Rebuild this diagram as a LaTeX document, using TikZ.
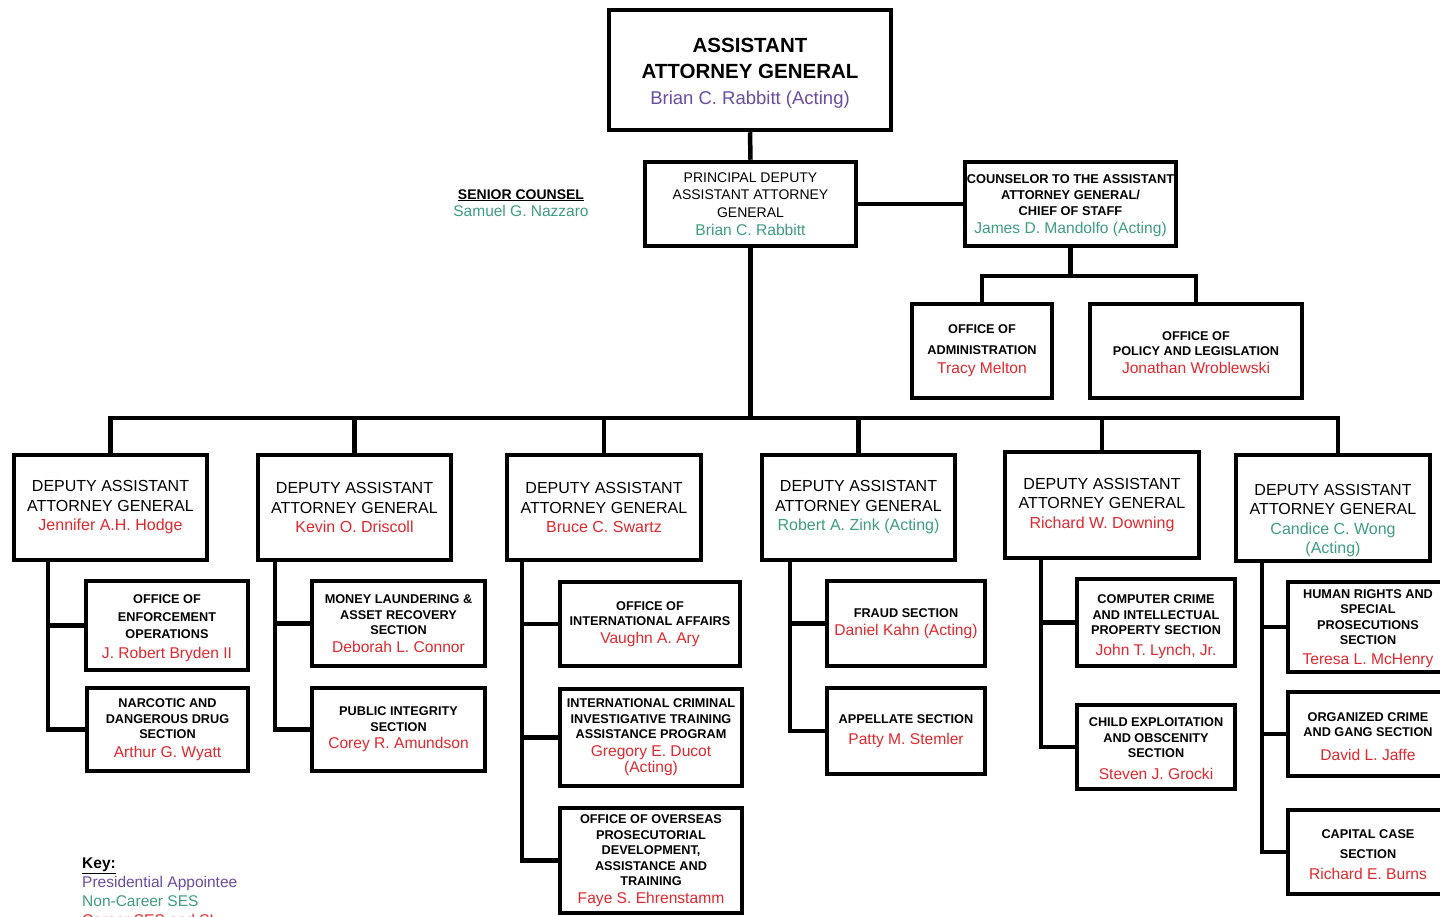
\documentclass[tikz,border=0pt]{standalone}
\usepackage{fontspec}
\setmainfont{Liberation Sans}
\usetikzlibrary{calc}

\definecolor{presc}{HTML}{6A4CA0}
\definecolor{ncses}{HTML}{3E9E7C}
\definecolor{cses}{HTML}{E0282E}

% font sizes for the different levels
\newcommand{\aagfont}{\fontsize{20.5}{26}\selectfont\bfseries}
\newcommand{\daagfont}{\fontsize{16}{19.5}\selectfont}
\newcommand{\secfont}{\fontsize{12.7}{15.5}\selectfont\bfseries}
\newcommand{\pdfont}{\fontsize{14}{17.5}\selectfont}
% name colours: presidential, non-career SES, career SES/SL
\newcommand{\pnm}[1]{{\color{presc}#1}}
\newcommand{\gnm}[1]{{\color{ncses}#1}}
\newcommand{\rnm}[1]{{\fontsize{15.6}{18}\selectfont\mdseries\color{cses}#1}}
\newcommand{\rdn}[1]{{\color{cses}#1}}
\newcommand{\gsec}[1]{{\fontsize{15.6}{18}\selectfont\mdseries\color{ncses}#1}}

\tikzset{
  unit/.style={draw=black, line width=4.5pt, fill=white, align=center, inner sep=1pt},
  link/.style={line width=4.5pt},
}

\begin{document}
\begin{tikzpicture}[x=1pt,y=-1pt]
\fill[white] (0,0) rectangle (1440,917);
\useasboundingbox (0,0) rectangle (1440,917);

% front office
\node[unit, minimum width=282pt, minimum height=120pt, font=\aagfont] (aag) at (750,70)
  {\rule{0pt}{21pt}ASSISTANT\\ATTORNEY GENERAL\\{\mdseries\fontsize{18.5}{22}\selectfont\pnm{Brian C. Rabbitt (Acting)}}};
\node[unit, minimum width=211pt, minimum height=84pt, font=\pdfont] (pdaag) at (750.5,204)
  {PRINCIPAL DEPUTY\\ASSISTANT ATTORNEY\\GENERAL\\[1pt]\gsec{Brian C. Rabbitt}};
\node[unit, minimum width=211pt, minimum height=84pt, font=\fontsize{12.8}{16}\selectfont\bfseries] (cos) at (1070.5,204)
  {\rule{0pt}{13pt}COUNSELOR TO THE ASSISTANT\\ATTORNEY GENERAL/\\CHIEF OF STAFF\\[2pt]\gsec{James D. Mandolfo (Acting)}};
\node[unit, minimum width=140pt, minimum height=94pt, font=\secfont] (adm) at (982,351)
  {OFFICE OF\\[5pt]ADMINISTRATION\\[4pt]\rnm{Tracy Melton}};
\node[unit, minimum width=212pt, minimum height=94pt, font=\secfont] (pol) at (1196,351)
  {\rule{0pt}{12pt}OFFICE OF\\POLICY AND LEGISLATION\\[2pt]\rnm{Jonathan Wroblewski}};

\node[align=center, font=\pdfont] (sc) at (521,203)
  {\bfseries\underline{SENIOR COUNSEL}\\{\fontsize{15.5}{18}\selectfont\gnm{Samuel G. Nazzaro}}};

% deputy assistant attorneys general
\node[unit, minimum width=193pt, minimum height=105pt, font=\daagfont] (d1) at (110.5,507.5)
  {DEPUTY ASSISTANT\\ATTORNEY GENERAL\\\rdn{Jennifer A.H. Hodge}};
\node[unit, minimum width=193pt, minimum height=105pt, font=\daagfont] (d2) at (354.5,507.5)
  {DEPUTY ASSISTANT\\ATTORNEY GENERAL\\\rdn{Kevin O. Driscoll}};
\node[unit, minimum width=194pt, minimum height=105pt, font=\daagfont] (d3) at (604,507.5)
  {DEPUTY ASSISTANT\\ATTORNEY GENERAL\\\rdn{Bruce C. Swartz}};
\node[unit, minimum width=193pt, minimum height=105pt, font=\daagfont] (d4) at (858.5,507.5)
  {DEPUTY ASSISTANT\\ATTORNEY GENERAL\\\gnm{Robert A. Zink (Acting)}};
\node[unit, minimum width=194pt, minimum height=106pt, font=\daagfont] (d5) at (1102,505)
  {DEPUTY ASSISTANT\\ATTORNEY GENERAL\\\rdn{Richard W. Downing}};
\node[unit, minimum width=194pt, minimum height=106pt, font=\daagfont] (d6) at (1333,508)
  {\rule{0pt}{36pt}DEPUTY ASSISTANT\\ATTORNEY GENERAL\\\gnm{Candice C. Wong}\\\gnm{(Acting)}};

% sections
\node[unit, minimum width=162pt, minimum height=89pt, font=\secfont] (s11) at (167,625.5)
  {\rule{0pt}{14pt}OFFICE OF\\[3pt]ENFORCEMENT\\[1pt]OPERATIONS\\[5pt]\rnm{J. Robert Bryden II}};
\node[unit, minimum width=161pt, minimum height=83pt, font=\secfont] (s12) at (167.5,729.5)
  {NARCOTIC AND\\DANGEROUS DRUG\\SECTION\\[3pt]\rnm{Arthur G. Wyatt}};
\node[unit, minimum width=173pt, minimum height=85pt, font=\secfont] (s21) at (398.5,623.5)
  {MONEY LAUNDERING \&\\ASSET RECOVERY\\SECTION\\[2pt]\rnm{Deborah L. Connor}};
\node[unit, minimum width=173pt, minimum height=83pt, font=\secfont] (s22) at (398.5,729.5)
  {PUBLIC INTEGRITY\\SECTION\\[2pt]\rnm{Corey R. Amundson}};
\node[unit, minimum width=180pt, minimum height=84pt, font=\secfont] (s31) at (650,624)
  {OFFICE OF\\INTERNATIONAL AFFAIRS\\[2pt]\rnm{Vaughn A. Ary}};
\node[unit, minimum width=182pt, minimum height=97pt, font=\secfont] (s32) at (651,737.5)
  {INTERNATIONAL CRIMINAL\\INVESTIGATIVE TRAINING\\ASSISTANCE PROGRAM\\[2pt]\rnm{Gregory E. Ducot}\\[1pt]\rnm{(Acting)}};
\node[unit, minimum width=182pt, minimum height=105pt, font=\secfont] (s33) at (651,860.5)
  {OFFICE OF OVERSEAS\\PROSECUTORIAL\\DEVELOPMENT,\\ASSISTANCE AND\\TRAINING\\[2pt]\rnm{Faye S. Ehrenstamm}};
\node[unit, minimum width=158pt, minimum height=85pt, font=\secfont] (s41) at (906,623.5)
  {FRAUD SECTION\\[2pt]\rnm{Daniel Kahn (Acting)}};
\node[unit, minimum width=158pt, minimum height=86pt, font=\secfont] (s42) at (906,731)
  {APPELLATE SECTION\\[5pt]\rnm{Patty M. Stemler}};
\node[unit, minimum width=158pt, minimum height=87pt, font=\secfont] (s51) at (1156,622.5)
  {\rule{0pt}{17pt}COMPUTER CRIME\\AND INTELLECTUAL\\PROPERTY SECTION\\[5pt]\rnm{John T. Lynch, Jr.}};
\node[unit, minimum width=158pt, minimum height=84pt, font=\secfont] (s52) at (1156,747)
  {\rule{0pt}{12pt}CHILD EXPLOITATION\\AND OBSCENITY\\SECTION\\[6pt]\rnm{Steven J. Grocki}};
\node[unit, minimum width=160pt, minimum height=90pt, font=\secfont] (s61) at (1368,627)
  {\rule{0pt}{12pt}HUMAN RIGHTS AND\\SPECIAL\\PROSECUTIONS\\SECTION\\[4pt]\rnm{Teresa L. McHenry}};
\node[unit, minimum width=160pt, minimum height=84pt, font=\secfont] (s62) at (1368,734)
  {\rule{0pt}{14pt}ORGANIZED CRIME\\AND GANG SECTION\\[8pt]\rnm{David L. Jaffe}};
\node[unit, minimum width=160pt, minimum height=84pt, font=\secfont] (s63) at (1368,852)
  {\rule{0pt}{14pt}CAPITAL CASE\\[5pt]SECTION\\[5pt]\rnm{Richard E. Burns}};

% key
\node[anchor=north west, align=left, inner sep=0pt, font=\fontsize{15.5}{19}\selectfont] (key) at (82,857.5)
  {\bfseries\underline{Key:}\\\pnm{Presidential Appointee}\\\gnm{Non-Career SES}\\\rdn{Career SES and SL}};

% bus levels and trunk positions
\coordinate (bus) at (0,418);
\coordinate (cbus) at (0,276);
\coordinate (t1) at (48,0);
\coordinate (t2) at (275,0);
\coordinate (t3) at (522,0);
\coordinate (t4) at (790,0);
\coordinate (t5) at (1041,0);
\coordinate (t6) at (1262,0);
\coordinate (d6top) at (1338,0);

% connectors
\draw[link] (aag.south) -- (pdaag.north);
\draw[link] (pdaag.east) -- (cos.west);
\draw[link] (pdaag.south) -- (pdaag.south |- bus);
\draw[link] (cos.south) -- (cos.south |- cbus);
\draw[link] (adm.north) |- (pol.north |- cbus) -- (pol.north);
\draw[link] (d1.north) |- (d6top |- bus) -- (d6top |- d6.north);
\foreach \d in {d2,d3,d4,d5}
  \draw[link] (\d.north) -- (\d.north |- bus);

\draw[link] (d1.south -| t1) |- (s12.west);
\draw[link] (s11.west -| t1) -- (s11.west);
\draw[link] (d2.south -| t2) |- (s22.west);
\draw[link] (s21.west -| t2) -- (s21.west);
\draw[link] (d3.south -| t3) |- (s33.west);
\draw[link] (s31.west -| t3) -- (s31.west);
\draw[link] (s32.west -| t3) -- (s32.west);
\draw[link] (d4.south -| t4) |- (s42.west);
\draw[link] (s41.west -| t4) -- (s41.west);
\draw[link] (d5.south -| t5) |- (s52.west);
\draw[link] (s51.west -| t5) -- (s51.west);
\draw[link] (d6.south -| t6) |- (s63.west);
\draw[link] (s61.west -| t6) -- (s61.west);
\draw[link] (s62.west -| t6) -- (s62.west);
\end{tikzpicture}
\end{document}
